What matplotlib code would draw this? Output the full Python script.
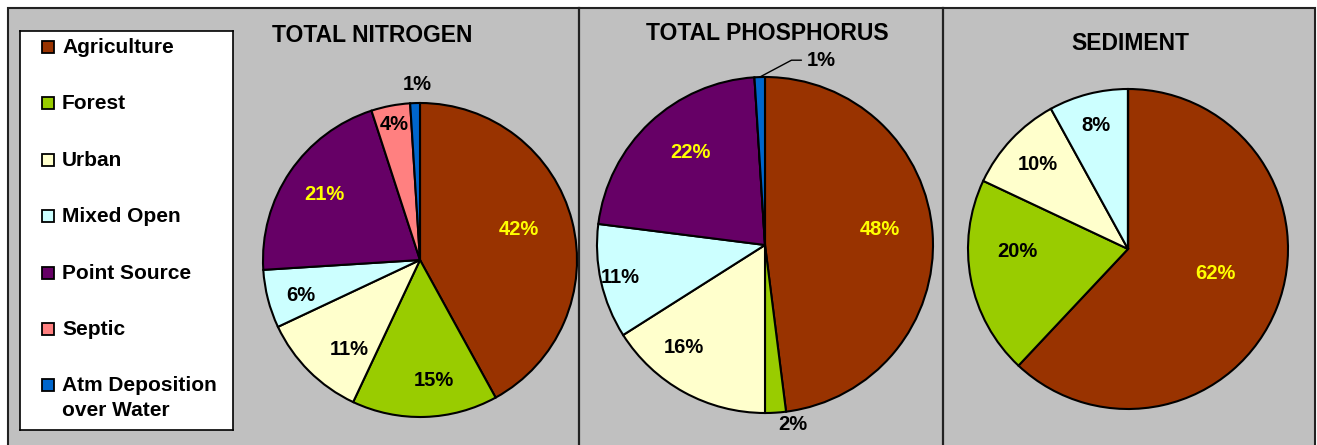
import numpy as np
import matplotlib
matplotlib.use('Agg')
import matplotlib.pyplot as plt
from matplotlib.patches import Rectangle

plt.rcParams['font.family'] = ['Liberation Sans', 'DejaVu Sans']
plt.rcParams['font.weight'] = 'bold'

# data
sources = ['Agriculture', 'Forest', 'Urban', 'Mixed Open', 'Point Source', 'Septic',
           'Atm Deposition\nover Water']
colors = ['#993300', '#99CC00', '#FFFFCC', '#CCFFFF', '#660066', '#FF8080', '#0066CC']
titles = ['TOTAL NITROGEN', 'TOTAL PHOSPHORUS', 'SEDIMENT']
nitrogen = [42, 15, 11, 6, 21, 4, 1]
phosphorus = [48, 2, 16, 11, 22, 0, 1]
sediment = [62, 20, 10, 8, 0, 0, 0]

W, H = 1317, 445
fig = plt.figure(figsize=(W / 100, H / 100), dpi=100, facecolor='white')

def fx(px): return px / W
def fy(py): return 1 - py / H

# grey frame
fig.patches.append(Rectangle((fx(8), -0.05), fx(1315) - fx(8), fy(8) + 0.05,
                             transform=fig.transFigure, facecolor='#C0C0C0',
                             edgecolor='#222222', lw=1.5, zorder=-10))
for xd in [579, 943]:
    fig.add_artist(plt.Line2D([fx(xd), fx(xd)], [0, fy(8)], transform=fig.transFigure,
                              color='#222222', lw=1.6, zorder=-5))

# legend box
lax = fig.add_axes([fx(20), fy(430), fx(233) - fx(20), fy(31) - fy(430)])
lax.set_xlim(20, 233)
lax.set_ylim(430, 31)
lax.set_facecolor('white')
lax.set_xticks([])
lax.set_yticks([])
for s in lax.spines.values():
    s.set_linewidth(1.2)
leg_y = [47, 103, 160, 216, 273, 329, 385]
for lab, c, y in zip(sources, colors, leg_y):
    lax.add_patch(Rectangle((42, y - 6), 12, 12, facecolor=c, edgecolor='black', lw=1.3))
    lax.text(62, y - 9, lab, fontsize=15, va='top', ha='left', linespacing=1.4)

def draw_pie(vals, cx, cy, r, dists, tweaks, label_col, title, tx, ty):
    pad = 1.05
    ax = fig.add_axes([fx(cx - r * pad), fy(cy + r * pad), 2 * r * pad / W, 2 * r * pad / H])
    wedges, _ = ax.pie(vals, colors=colors, startangle=90, counterclock=False, radius=1,
                       wedgeprops=dict(edgecolor='black', linewidth=1.5))
    ax.set_xlim(-pad, pad)
    ax.set_ylim(-pad, pad)
    ax.axis('off')
    for w, v, d, tw, lc in zip(wedges, vals, dists, tweaks, label_col):
        if v == 0:
            continue
        a = np.deg2rad((w.theta1 + w.theta2) / 2 + tw)
        if isinstance(d, tuple):
            ax.annotate('%d%%' % v, xy=(np.cos(a), np.sin(a)), xytext=d,
                        fontsize=14.5, ha='left', va='center', color=lc,
                        arrowprops=dict(arrowstyle='-', color='black', lw=1,
                                        connectionstyle='angle,angleA=0,angleB=28,rad=0',
                                        shrinkA=2, shrinkB=0))
        else:
            ax.text(d * np.cos(a), d * np.sin(a), '%d%%' % v, fontsize=14.5,
                    ha='center', va='center', color=lc)
    fig.text(fx(tx), fy(ty), title, fontsize=16.5, ha='center', va='center')

Y, K = '#FFFF00', 'black'
draw_pie(nitrogen, 420, 260, 157, [0.66, 0.77, 0.73, 0.79, 0.74, 0.88, 1.12],
         [3, 5, 6.7, 2, 0, 0, -1], [Y, K, K, K, Y, K, K], titles[0], 372, 36)
draw_pie(phosphorus, 765, 245, 168, [0.69, 1.08, 0.78, 0.88, 0.71, 0, (0.25, 1.10)],
         [4.3, 5.2, -9.7, 0, -4.3, 0, 0], [Y, K, K, K, Y, K, K], titles[1], 767, 33)
draw_pie(sediment, 1128, 249, 160, [0.57, 0.69, 0.77, 0.80, 0, 0, 0],
         [5.7, -9.3, 0, 0, 0, 0, 0], [Y, K, K, K, Y, K, K], titles[2], 1130, 43)

fig.savefig('out.png', dpi=100, facecolor='white')
